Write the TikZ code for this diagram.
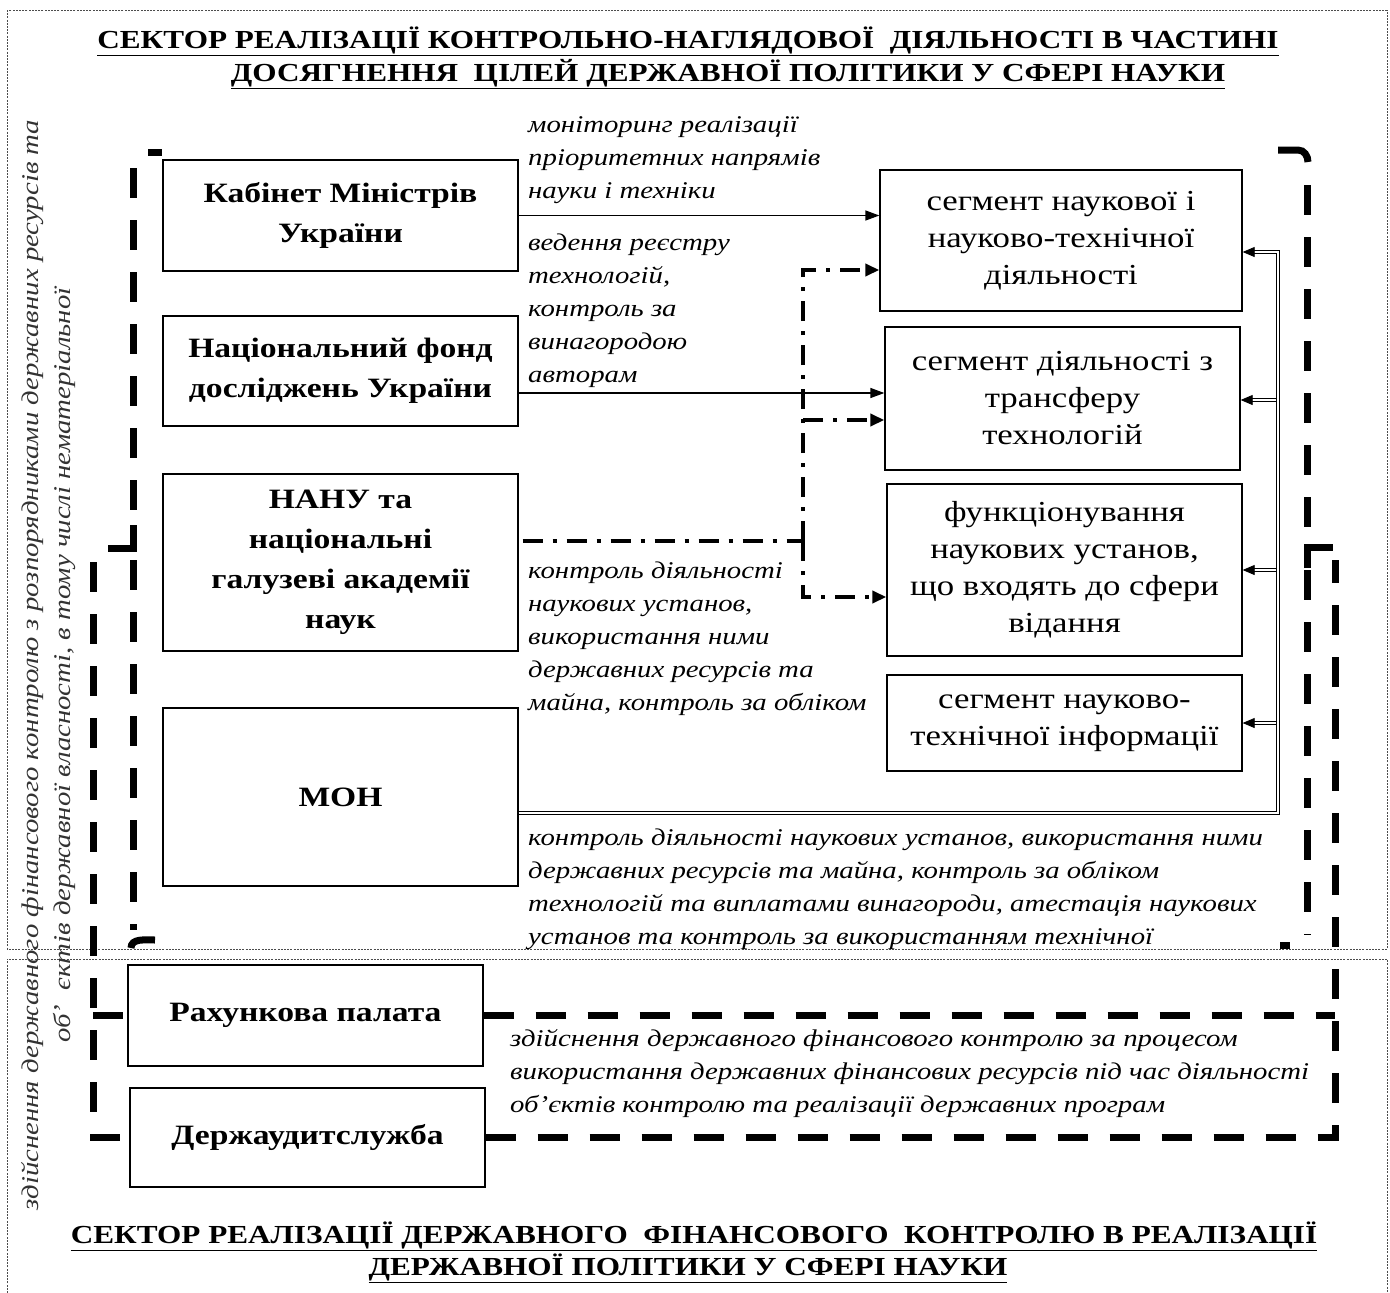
\documentclass[tikz,border=0pt]{standalone}
\usepackage{fontspec}
\setmainfont{Liberation Serif}[BoldFont={Liberation Serif Bold}, ItalicFont={Liberation Serif Italic}, BoldItalicFont={Liberation Serif Bold Italic}, FakeStretch=1.2]
\usetikzlibrary{arrows.meta}
\begin{document}
\begin{tikzpicture}[x=1pt,y=-1pt,
 frame/.style={line width=0.8pt, draw=black!70, dash pattern=on 2pt off 1.2pt},
 box/.style={draw, line width=1.3pt, align=center, inner sep=0pt, font=\bfseries\fontsize{28}{40}\selectfont},
 seg/.style={draw, line width=1.3pt, align=center, inner sep=0pt, font=\fontsize{29}{37}\selectfont},
 lbl/.style={anchor=north west, align=left, inner sep=0pt, font=\itshape\fontsize{24}{33}\selectfont},
 ttl/.style={inner sep=0pt, font=\bfseries\fontsize{26}{33}\selectfont},
 arr/.style={line width=1.3pt, -{Triangle[length=14pt,width=10pt]}},
 dd/.style={line width=4pt, dash pattern=on 20pt off 10pt on 4pt off 10pt},
 ddarr/.style={dd, -{Triangle[length=14pt,width=12pt]}},
 dbl/.style={double, double distance=2.2pt, line width=0.8pt},
 dblarr/.style={dbl, -{Triangle[length=12pt,width=10pt]}},
 tdash/.style={line width=7pt, dash pattern=on 30pt off 22pt},
 tsolid/.style={line width=7pt}
]
\useasboundingbox (0,0) rectangle (1390,1293);
% frames
\draw[frame] (7,10) rectangle (1387,949);
\draw[frame] (7,1293) -- (7,959) -- (1387,959) -- (1387,1293);
% titles
\node[ttl] (t1a) at (688,41) {\underline{СЕКТОР РЕАЛІЗАЦІЇ КОНТРОЛЬНО-НАГЛЯДОВОЇ\ \ ДІЯЛЬНОСТІ В ЧАСТИНІ}};
\node[ttl] (t1b) at (728,74) {\underline{ДОСЯГНЕННЯ\ \ ЦІЛЕЙ ДЕРЖАВНОЇ ПОЛІТИКИ У СФЕРІ НАУКИ}};
\node[ttl] (t2a) at (694,1236) {\underline{СЕКТОР РЕАЛІЗАЦІЇ ДЕРЖАВНОГО\ \ ФІНАНСОВОГО\ \ КОНТРОЛЮ В РЕАЛІЗАЦІЇ}};
\node[ttl] (t2b) at (688,1268) {\underline{ДЕРЖАВНОЇ ПОЛІТИКИ У СФЕРІ НАУКИ}};
% left boxes
\node[box, minimum width=355pt, minimum height=111pt] (kab) at (340.5,215.5) {Кабінет Міністрів\\України};
\node[box, minimum width=355pt, minimum height=110pt] (fond) at (340.5,371) {Національний фонд\\досліджень України};
\node[box, minimum width=355pt, minimum height=177pt] (nanu) at (340.5,562.5) {НАНУ та\\національні\\галузеві академії\\наук};
\node[box, minimum width=355pt, minimum height=178pt] (mon) at (340.5,797) {МОН};
\node[box, minimum width=355pt, minimum height=101pt] (rah) at (305.5,1015.5) {Рахункова палата};
\node[box, minimum width=355pt, minimum height=99pt] (derzh) at (307.5,1137.5) {Держаудитслужба};
% right boxes
\node[seg, minimum width=362pt, minimum height=141pt] (seg1) at (1061,240.5) {сегмент наукової і\\науково-технічної\\діяльності};
\node[seg, minimum width=355pt, minimum height=143pt] (seg2) at (1062.5,398.5) {сегмент діяльності з\\трансферу\\технологій};
\node[seg, minimum width=355pt, minimum height=172pt] (seg3) at (1064.5,570) {функціонування\\наукових установ,\\що входять до сфери\\відання};
\node[seg, minimum width=355pt, minimum height=96pt] (seg4) at (1064.5,723) {сегмент науково-\\технічної інформації};
% labels
\node[lbl] (l1) at (528,116) {моніторинг реалізації\\пріоритетних напрямів\\науки і техніки};
\node[lbl] (l2) at (528,234) {ведення реєстру\\технологій,\\контроль за\\винагородою\\авторам};
\node[lbl] (l3) at (528,562) {контроль діяльності\\наукових установ,\\використання ними\\державних ресурсів та\\майна, контроль за обліком};
\node[lbl] (l4) at (528,829) {контроль діяльності наукових установ, використання ними\\державних ресурсів та майна, контроль за обліком\\технологій та виплатами винагороди, атестація наукових\\установ та контроль за використанням технічної};
\node[lbl] (l5) at (510,1029) {здійснення державного фінансового контролю за процесом\\використання державних фінансових ресурсів під час діяльності\\об’єктів контролю та реалізації державних програм};
\node[rotate=90, align=center, inner sep=0pt, text=black!80, font=\itshape\fontsize{24}{32}\selectfont] (side) at (49,665) {здійснення державного фінансового контролю з розпорядниками державних ресурсів та\\об’\ \ єктів державної власності, в тому числі нематеріальної};
% solid arrows
\coordinate (a2) at (700,393);
\draw[arr] (kab.east) -- (kab.east -| seg1.west);
\draw[arr] (fond.east |- a2) -- (a2 -| seg2.west);
% dash-dot
\coordinate (vj) at (803,541);
\coordinate (v1) at (803,270);
\coordinate (v2) at (803,420);
\coordinate (v3) at (803,597);
\draw[dd] (nanu.east |- vj) ++(4,0) -- (vj);
\draw[ddarr] (vj) -- (v1) -- (v1 -| seg1.west);
\draw[ddarr] (vj) -- (v3) -- (v3 -| seg3.west);
\draw[ddarr] (v2) -- (v2 -| seg2.west);
% double lines from MON
\coordinate (bus) at (1278,813);
\coordinate (b1) at (1278,252);
\coordinate (b2) at (1276,400);
\coordinate (b3) at (1276,570);
\coordinate (b4) at (1276,723);
\draw[dblarr] (mon.east |- bus) -- (bus) -- (b1) -- (b1 -| seg1.east);
\draw[dblarr] (b2) -- (b2 -| seg2.east);
\draw[dblarr] (b3) -- (b3 -| seg3.east);
\draw[dblarr] (b4) -- (b4 -| seg4.east);
% left bracket 1
\draw[tdash] (133,168) -- (133,525);
\draw[tdash] (133,560) -- (133,930);
\draw[tsolid] (148,152) -- (162,152);
\draw[tsolid] (108,548) -- (133,548) -- (133,525);
\draw[tsolid] (131,948) to[out=90,in=180] (155,940);
% right bracket 1
\draw[tdash] (1307,185) -- (1307,530);
\draw[tdash] (1307,570) -- (1307,935);
\draw[tsolid] (1278,150) -- (1298,150) to[out=0,in=90] (1308,162);
\draw[tsolid] (1307,568) -- (1307,547) -- (1333,547);
\draw[tsolid] (1280,945) -- (1290,945);
% bracket 2
\coordinate (L2) at (93,562);
\coordinate (R2) at (1335,560);
\draw[tdash] (L2) |- (derzh.west);
\draw[tdash] (L2 |- rah.west) -- (rah.west);
\draw[tdash] (derzh.east) -| (R2);
\draw[tdash] (rah.east) -- (rah.east -| R2);
\end{tikzpicture}
\end{document}
